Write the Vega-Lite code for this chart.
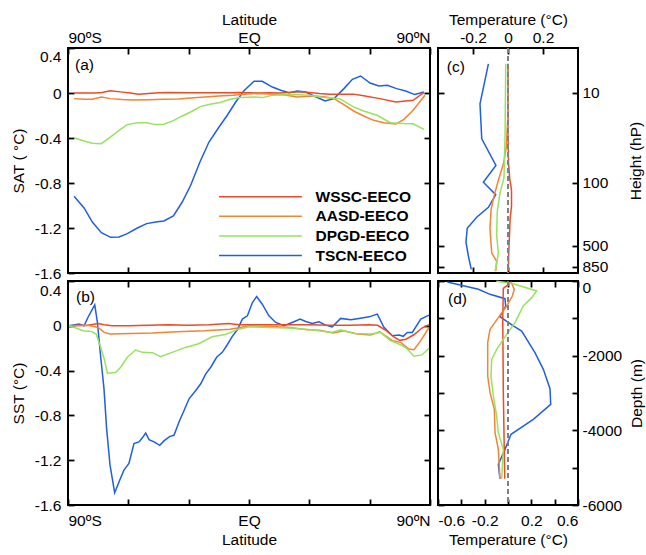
{
  "$schema": "https://vega.github.io/schema/vega-lite/v6.json",
  "padding": {"left": 10, "top": 11, "right": 0, "bottom": 0},
  "columns": 2,
  "spacing": 8,
  "bounds": "flush",
  "align": "each",
  "resolve": {"scale": {"color": "independent", "x": "independent", "y": "independent"}, "legend": {"color": "independent"}},
  "config": {
    "view": {"stroke": "#000", "strokeWidth": 2},
    "axis": {"grid": false, "domain": false, "tickColor": "#000", "tickWidth": 1.8, "tickSize": -6,
      "labelFont": "Liberation Sans", "labelFontSize": 15.5, "labelColor": "#000", "labelPadding": 13,
      "titleFont": "Liberation Sans", "titleFontSize": 15.5, "titleFontWeight": "normal", "titleColor": "#000"},
    "text": {"font": "Liberation Sans", "fontSize": 15.5, "color": "#000"},
    "line": {"strokeWidth": 1.5}
  },
  "datasets": {
    "sat": [
      {"exp": "TSCN-EECO", "lat": -87, "val": -0.918}, {"exp": "TSCN-EECO", "lat": -82, "val": -1.022}, {"exp": "TSCN-EECO", "lat": -77.9, "val": -1.147}, {"exp": "TSCN-EECO", "lat": -73.4, "val": -1.241}, {"exp": "TSCN-EECO", "lat": -68.8, "val": -1.283}, {"exp": "TSCN-EECO", "lat": -64.6, "val": -1.28}, {"exp": "TSCN-EECO", "lat": -60.5, "val": -1.25}, {"exp": "TSCN-EECO", "lat": -55.5, "val": -1.2}, {"exp": "TSCN-EECO", "lat": -50.9, "val": -1.161}, {"exp": "TSCN-EECO", "lat": -46.4, "val": -1.147}, {"exp": "TSCN-EECO", "lat": -42.3, "val": -1.138}, {"exp": "TSCN-EECO", "lat": -37.6, "val": -1.093}, {"exp": "TSCN-EECO", "lat": -33.2, "val": -0.969}, {"exp": "TSCN-EECO", "lat": -29, "val": -0.82}, {"exp": "TSCN-EECO", "lat": -24.4, "val": -0.613}, {"exp": "TSCN-EECO", "lat": -19.9, "val": -0.436}, {"exp": "TSCN-EECO", "lat": -14.9, "val": -0.302}, {"exp": "TSCN-EECO", "lat": -10.8, "val": -0.198}, {"exp": "TSCN-EECO", "lat": -6.6, "val": -0.08}, {"exp": "TSCN-EECO", "lat": -2.5, "val": 0.02}, {"exp": "TSCN-EECO", "lat": 2.5, "val": 0.104}, {"exp": "TSCN-EECO", "lat": 6.6, "val": 0.104}, {"exp": "TSCN-EECO", "lat": 11.6, "val": 0.053}, {"exp": "TSCN-EECO", "lat": 15.8, "val": 0.024}, {"exp": "TSCN-EECO", "lat": 19.9, "val": 0.003}, {"exp": "TSCN-EECO", "lat": 24, "val": 0.018}, {"exp": "TSCN-EECO", "lat": 28.2, "val": 0.009}, {"exp": "TSCN-EECO", "lat": 32.3, "val": -0.027}, {"exp": "TSCN-EECO", "lat": 37.8, "val": -0.071}, {"exp": "TSCN-EECO", "lat": 42.3, "val": -0.05}, {"exp": "TSCN-EECO", "lat": 47.2, "val": 0.039}, {"exp": "TSCN-EECO", "lat": 51.4, "val": 0.122}, {"exp": "TSCN-EECO", "lat": 55.5, "val": 0.151}, {"exp": "TSCN-EECO", "lat": 60.2, "val": 0.089}, {"exp": "TSCN-EECO", "lat": 64.6, "val": 0.062}, {"exp": "TSCN-EECO", "lat": 68.8, "val": 0.068}, {"exp": "TSCN-EECO", "lat": 73.4, "val": 0.039}, {"exp": "TSCN-EECO", "lat": 77.9, "val": 0.018}, {"exp": "TSCN-EECO", "lat": 82.4, "val": -0.014}, {"exp": "TSCN-EECO", "lat": 87, "val": 0.009},
      {"exp": "WSSC-EECO", "lat": -87, "val": 0}, {"exp": "WSSC-EECO", "lat": -82, "val": 0}, {"exp": "WSSC-EECO", "lat": -77, "val": 0}, {"exp": "WSSC-EECO", "lat": -73, "val": 0.005}, {"exp": "WSSC-EECO", "lat": -69, "val": 0.02}, {"exp": "WSSC-EECO", "lat": -64, "val": 0.01}, {"exp": "WSSC-EECO", "lat": -59, "val": 0}, {"exp": "WSSC-EECO", "lat": -55, "val": -0.012}, {"exp": "WSSC-EECO", "lat": -50, "val": -0.005}, {"exp": "WSSC-EECO", "lat": -45, "val": 0.003}, {"exp": "WSSC-EECO", "lat": -40, "val": 0.005}, {"exp": "WSSC-EECO", "lat": -30, "val": 0.003}, {"exp": "WSSC-EECO", "lat": -20, "val": 0.002}, {"exp": "WSSC-EECO", "lat": -10, "val": 0.003}, {"exp": "WSSC-EECO", "lat": -5, "val": 0.005}, {"exp": "WSSC-EECO", "lat": 0, "val": 0.003}, {"exp": "WSSC-EECO", "lat": 5, "val": 0}, {"exp": "WSSC-EECO", "lat": 10, "val": 0.002}, {"exp": "WSSC-EECO", "lat": 15, "val": 0}, {"exp": "WSSC-EECO", "lat": 20, "val": 0.005}, {"exp": "WSSC-EECO", "lat": 25, "val": 0.01}, {"exp": "WSSC-EECO", "lat": 30, "val": 0.005}, {"exp": "WSSC-EECO", "lat": 35, "val": -0.005}, {"exp": "WSSC-EECO", "lat": 40, "val": -0.01}, {"exp": "WSSC-EECO", "lat": 47, "val": -0.01}, {"exp": "WSSC-EECO", "lat": 52, "val": -0.01}, {"exp": "WSSC-EECO", "lat": 57, "val": -0.024}, {"exp": "WSSC-EECO", "lat": 65, "val": -0.05}, {"exp": "WSSC-EECO", "lat": 73, "val": -0.08}, {"exp": "WSSC-EECO", "lat": 81.6, "val": -0.065}, {"exp": "WSSC-EECO", "lat": 87, "val": 0.005},
      {"exp": "AASD-EECO", "lat": -87, "val": -0.05}, {"exp": "AASD-EECO", "lat": -82, "val": -0.055}, {"exp": "AASD-EECO", "lat": -78, "val": -0.055}, {"exp": "AASD-EECO", "lat": -73.4, "val": -0.035}, {"exp": "AASD-EECO", "lat": -69, "val": -0.05}, {"exp": "AASD-EECO", "lat": -63, "val": -0.058}, {"exp": "AASD-EECO", "lat": -58, "val": -0.062}, {"exp": "AASD-EECO", "lat": -50, "val": -0.06}, {"exp": "AASD-EECO", "lat": -42, "val": -0.056}, {"exp": "AASD-EECO", "lat": -35, "val": -0.054}, {"exp": "AASD-EECO", "lat": -29, "val": -0.045}, {"exp": "AASD-EECO", "lat": -22, "val": -0.035}, {"exp": "AASD-EECO", "lat": -15, "val": -0.027}, {"exp": "AASD-EECO", "lat": -8, "val": -0.02}, {"exp": "AASD-EECO", "lat": -2.5, "val": -0.012}, {"exp": "AASD-EECO", "lat": 3, "val": -0.005}, {"exp": "AASD-EECO", "lat": 10, "val": -0.01}, {"exp": "AASD-EECO", "lat": 17, "val": -0.015}, {"exp": "AASD-EECO", "lat": 24, "val": -0.035}, {"exp": "AASD-EECO", "lat": 29, "val": -0.03}, {"exp": "AASD-EECO", "lat": 33, "val": -0.027}, {"exp": "AASD-EECO", "lat": 38, "val": -0.035}, {"exp": "AASD-EECO", "lat": 42.3, "val": -0.05}, {"exp": "AASD-EECO", "lat": 47.2, "val": -0.104}, {"exp": "AASD-EECO", "lat": 52, "val": -0.16}, {"exp": "AASD-EECO", "lat": 57, "val": -0.204}, {"exp": "AASD-EECO", "lat": 62, "val": -0.243}, {"exp": "AASD-EECO", "lat": 67, "val": -0.264}, {"exp": "AASD-EECO", "lat": 73, "val": -0.276}, {"exp": "AASD-EECO", "lat": 77, "val": -0.234}, {"exp": "AASD-EECO", "lat": 81.6, "val": -0.154}, {"exp": "AASD-EECO", "lat": 87.5, "val": -0.02},
      {"exp": "DPGD-EECO", "lat": -87, "val": -0.397}, {"exp": "DPGD-EECO", "lat": -82, "val": -0.426}, {"exp": "DPGD-EECO", "lat": -78, "val": -0.447}, {"exp": "DPGD-EECO", "lat": -73.4, "val": -0.45}, {"exp": "DPGD-EECO", "lat": -68.8, "val": -0.39}, {"exp": "DPGD-EECO", "lat": -64.6, "val": -0.332}, {"exp": "DPGD-EECO", "lat": -60.5, "val": -0.281}, {"exp": "DPGD-EECO", "lat": -55.5, "val": -0.264}, {"exp": "DPGD-EECO", "lat": -50.9, "val": -0.264}, {"exp": "DPGD-EECO", "lat": -46.4, "val": -0.281}, {"exp": "DPGD-EECO", "lat": -42.3, "val": -0.278}, {"exp": "DPGD-EECO", "lat": -37.6, "val": -0.246}, {"exp": "DPGD-EECO", "lat": -33.2, "val": -0.204}, {"exp": "DPGD-EECO", "lat": -29, "val": -0.169}, {"exp": "DPGD-EECO", "lat": -24.2, "val": -0.121}, {"exp": "DPGD-EECO", "lat": -19.4, "val": -0.1}, {"exp": "DPGD-EECO", "lat": -14.4, "val": -0.085}, {"exp": "DPGD-EECO", "lat": -9.4, "val": -0.056}, {"exp": "DPGD-EECO", "lat": -4.5, "val": -0.041}, {"exp": "DPGD-EECO", "lat": 2.5, "val": -0.035}, {"exp": "DPGD-EECO", "lat": 6.6, "val": -0.041}, {"exp": "DPGD-EECO", "lat": 11.6, "val": -0.02}, {"exp": "DPGD-EECO", "lat": 18, "val": -0.015}, {"exp": "DPGD-EECO", "lat": 24, "val": -0.015}, {"exp": "DPGD-EECO", "lat": 30, "val": -0.02}, {"exp": "DPGD-EECO", "lat": 37, "val": -0.041}, {"exp": "DPGD-EECO", "lat": 45, "val": -0.05}, {"exp": "DPGD-EECO", "lat": 52, "val": -0.124}, {"exp": "DPGD-EECO", "lat": 57, "val": -0.16}, {"exp": "DPGD-EECO", "lat": 63.7, "val": -0.198}, {"exp": "DPGD-EECO", "lat": 70.3, "val": -0.264}, {"exp": "DPGD-EECO", "lat": 77, "val": -0.272}, {"exp": "DPGD-EECO", "lat": 81.6, "val": -0.274}, {"exp": "DPGD-EECO", "lat": 87, "val": -0.323}
    ],
    "sst": [
      {"exp": "TSCN-EECO", "lat": -89.5, "val": 0}, {"exp": "TSCN-EECO", "lat": -84.5, "val": 0.015}, {"exp": "TSCN-EECO", "lat": -82, "val": 0}, {"exp": "TSCN-EECO", "lat": -80.1, "val": 0.074}, {"exp": "TSCN-EECO", "lat": -76.7, "val": 0.187}, {"exp": "TSCN-EECO", "lat": -75.4, "val": 0.033}, {"exp": "TSCN-EECO", "lat": -73.8, "val": -0.267}, {"exp": "TSCN-EECO", "lat": -72.1, "val": -0.563}, {"exp": "TSCN-EECO", "lat": -70.8, "val": -0.918}, {"exp": "TSCN-EECO", "lat": -69.1, "val": -1.244}, {"exp": "TSCN-EECO", "lat": -66.8, "val": -1.49}, {"exp": "TSCN-EECO", "lat": -64.6, "val": -1.392}, {"exp": "TSCN-EECO", "lat": -62.2, "val": -1.289}, {"exp": "TSCN-EECO", "lat": -59.7, "val": -1.229}, {"exp": "TSCN-EECO", "lat": -57.2, "val": -1.052}, {"exp": "TSCN-EECO", "lat": -54.7, "val": -1.037}, {"exp": "TSCN-EECO", "lat": -53, "val": -1.0}, {"exp": "TSCN-EECO", "lat": -51.4, "val": -0.957}, {"exp": "TSCN-EECO", "lat": -49.7, "val": -1.016}, {"exp": "TSCN-EECO", "lat": -47.2, "val": -1.037}, {"exp": "TSCN-EECO", "lat": -44.4, "val": -1.067}, {"exp": "TSCN-EECO", "lat": -42.3, "val": -1.028}, {"exp": "TSCN-EECO", "lat": -39.3, "val": -0.987}, {"exp": "TSCN-EECO", "lat": -37.3, "val": -0.978}, {"exp": "TSCN-EECO", "lat": -34.8, "val": -0.859}, {"exp": "TSCN-EECO", "lat": -32.3, "val": -0.756}, {"exp": "TSCN-EECO", "lat": -29.8, "val": -0.652}, {"exp": "TSCN-EECO", "lat": -26.5, "val": -0.578}, {"exp": "TSCN-EECO", "lat": -24, "val": -0.518}, {"exp": "TSCN-EECO", "lat": -21.5, "val": -0.429}, {"exp": "TSCN-EECO", "lat": -19, "val": -0.37}, {"exp": "TSCN-EECO", "lat": -16.1, "val": -0.281}, {"exp": "TSCN-EECO", "lat": -13.3, "val": -0.237}, {"exp": "TSCN-EECO", "lat": -10.8, "val": -0.169}, {"exp": "TSCN-EECO", "lat": -8.3, "val": -0.094}, {"exp": "TSCN-EECO", "lat": -5.8, "val": -0.036}, {"exp": "TSCN-EECO", "lat": -3.3, "val": 0.06}, {"exp": "TSCN-EECO", "lat": -0.8, "val": 0.089}, {"exp": "TSCN-EECO", "lat": 1.7, "val": 0.208}, {"exp": "TSCN-EECO", "lat": 3.8, "val": 0.261}, {"exp": "TSCN-EECO", "lat": 6.6, "val": 0.193}, {"exp": "TSCN-EECO", "lat": 9.9, "val": 0.089}, {"exp": "TSCN-EECO", "lat": 13.3, "val": 0.03}, {"exp": "TSCN-EECO", "lat": 17.4, "val": 0.0}, {"exp": "TSCN-EECO", "lat": 21.5, "val": 0.03}, {"exp": "TSCN-EECO", "lat": 25.4, "val": 0.06}, {"exp": "TSCN-EECO", "lat": 28.2, "val": 0.039}, {"exp": "TSCN-EECO", "lat": 31.5, "val": 0.021}, {"exp": "TSCN-EECO", "lat": 34.8, "val": 0.036}, {"exp": "TSCN-EECO", "lat": 38.1, "val": 0.006}, {"exp": "TSCN-EECO", "lat": 41.4, "val": -0.009}, {"exp": "TSCN-EECO", "lat": 45.6, "val": 0.066}, {"exp": "TSCN-EECO", "lat": 50.6, "val": 0.053}, {"exp": "TSCN-EECO", "lat": 55.5, "val": 0.068}, {"exp": "TSCN-EECO", "lat": 59.7, "val": 0.08}, {"exp": "TSCN-EECO", "lat": 63.8, "val": 0.104}, {"exp": "TSCN-EECO", "lat": 67.1, "val": -0.014}, {"exp": "TSCN-EECO", "lat": 71.3, "val": -0.089}, {"exp": "TSCN-EECO", "lat": 74.6, "val": -0.083}, {"exp": "TSCN-EECO", "lat": 76.7, "val": -0.094}, {"exp": "TSCN-EECO", "lat": 78.7, "val": -0.059}, {"exp": "TSCN-EECO", "lat": 81.2, "val": -0.059}, {"exp": "TSCN-EECO", "lat": 85.4, "val": 0.06}, {"exp": "TSCN-EECO", "lat": 89.5, "val": 0.095},
      {"exp": "WSSC-EECO", "lat": -89.5, "val": 0}, {"exp": "WSSC-EECO", "lat": -80, "val": 0.005}, {"exp": "WSSC-EECO", "lat": -75, "val": 0.02}, {"exp": "WSSC-EECO", "lat": -72, "val": 0.01}, {"exp": "WSSC-EECO", "lat": -68, "val": 0}, {"exp": "WSSC-EECO", "lat": -60, "val": 0}, {"exp": "WSSC-EECO", "lat": -50, "val": 0.005}, {"exp": "WSSC-EECO", "lat": -40, "val": 0.01}, {"exp": "WSSC-EECO", "lat": -30, "val": 0.005}, {"exp": "WSSC-EECO", "lat": -20, "val": 0.01}, {"exp": "WSSC-EECO", "lat": -10, "val": 0.02}, {"exp": "WSSC-EECO", "lat": -5, "val": 0.01}, {"exp": "WSSC-EECO", "lat": 0, "val": 0.01}, {"exp": "WSSC-EECO", "lat": 10, "val": 0.01}, {"exp": "WSSC-EECO", "lat": 20, "val": 0.01}, {"exp": "WSSC-EECO", "lat": 30, "val": 0.01}, {"exp": "WSSC-EECO", "lat": 40, "val": 0.005}, {"exp": "WSSC-EECO", "lat": 50, "val": 0.005}, {"exp": "WSSC-EECO", "lat": 60, "val": 0.01}, {"exp": "WSSC-EECO", "lat": 64, "val": 0.005}, {"exp": "WSSC-EECO", "lat": 68, "val": -0.04}, {"exp": "WSSC-EECO", "lat": 72, "val": -0.1}, {"exp": "WSSC-EECO", "lat": 75, "val": -0.13}, {"exp": "WSSC-EECO", "lat": 78, "val": -0.12}, {"exp": "WSSC-EECO", "lat": 82, "val": -0.08}, {"exp": "WSSC-EECO", "lat": 86, "val": -0.02}, {"exp": "WSSC-EECO", "lat": 89.5, "val": 0.01},
      {"exp": "AASD-EECO", "lat": -89.5, "val": 0}, {"exp": "AASD-EECO", "lat": -80, "val": 0.005}, {"exp": "AASD-EECO", "lat": -75, "val": -0.015}, {"exp": "AASD-EECO", "lat": -72, "val": -0.059}, {"exp": "AASD-EECO", "lat": -69, "val": -0.074}, {"exp": "AASD-EECO", "lat": -59, "val": -0.068}, {"exp": "AASD-EECO", "lat": -48, "val": -0.065}, {"exp": "AASD-EECO", "lat": -36, "val": -0.053}, {"exp": "AASD-EECO", "lat": -22, "val": -0.045}, {"exp": "AASD-EECO", "lat": -9.4, "val": -0.03}, {"exp": "AASD-EECO", "lat": -4.4, "val": -0.015}, {"exp": "AASD-EECO", "lat": 0, "val": 0}, {"exp": "AASD-EECO", "lat": 10, "val": -0.005}, {"exp": "AASD-EECO", "lat": 20, "val": -0.015}, {"exp": "AASD-EECO", "lat": 29, "val": -0.036}, {"exp": "AASD-EECO", "lat": 35, "val": -0.04}, {"exp": "AASD-EECO", "lat": 42, "val": -0.065}, {"exp": "AASD-EECO", "lat": 47, "val": -0.045}, {"exp": "AASD-EECO", "lat": 54, "val": -0.074}, {"exp": "AASD-EECO", "lat": 60.5, "val": -0.083}, {"exp": "AASD-EECO", "lat": 65, "val": -0.053}, {"exp": "AASD-EECO", "lat": 71.3, "val": -0.133}, {"exp": "AASD-EECO", "lat": 75.4, "val": -0.148}, {"exp": "AASD-EECO", "lat": 79.5, "val": -0.207}, {"exp": "AASD-EECO", "lat": 82, "val": -0.213}, {"exp": "AASD-EECO", "lat": 85.4, "val": -0.133}, {"exp": "AASD-EECO", "lat": 89.5, "val": -0.015},
      {"exp": "DPGD-EECO", "lat": -89.5, "val": 0}, {"exp": "DPGD-EECO", "lat": -86, "val": -0.02}, {"exp": "DPGD-EECO", "lat": -82.5, "val": -0.044}, {"exp": "DPGD-EECO", "lat": -78.4, "val": -0.05}, {"exp": "DPGD-EECO", "lat": -76, "val": -0.074}, {"exp": "DPGD-EECO", "lat": -74, "val": -0.178}, {"exp": "DPGD-EECO", "lat": -72, "val": -0.296}, {"exp": "DPGD-EECO", "lat": -70.4, "val": -0.423}, {"exp": "DPGD-EECO", "lat": -66.3, "val": -0.418}, {"exp": "DPGD-EECO", "lat": -63.8, "val": -0.37}, {"exp": "DPGD-EECO", "lat": -60.5, "val": -0.281}, {"exp": "DPGD-EECO", "lat": -56.4, "val": -0.216}, {"exp": "DPGD-EECO", "lat": -53, "val": -0.237}, {"exp": "DPGD-EECO", "lat": -48, "val": -0.24}, {"exp": "DPGD-EECO", "lat": -44, "val": -0.276}, {"exp": "DPGD-EECO", "lat": -38.2, "val": -0.237}, {"exp": "DPGD-EECO", "lat": -31.6, "val": -0.193}, {"exp": "DPGD-EECO", "lat": -25, "val": -0.16}, {"exp": "DPGD-EECO", "lat": -18.4, "val": -0.098}, {"exp": "DPGD-EECO", "lat": -11.8, "val": -0.077}, {"exp": "DPGD-EECO", "lat": -5.2, "val": -0.03}, {"exp": "DPGD-EECO", "lat": 0, "val": -0.009}, {"exp": "DPGD-EECO", "lat": 10, "val": -0.015}, {"exp": "DPGD-EECO", "lat": 20, "val": -0.02}, {"exp": "DPGD-EECO", "lat": 31, "val": -0.036}, {"exp": "DPGD-EECO", "lat": 41, "val": -0.059}, {"exp": "DPGD-EECO", "lat": 45.6, "val": -0.036}, {"exp": "DPGD-EECO", "lat": 52.2, "val": -0.068}, {"exp": "DPGD-EECO", "lat": 60.5, "val": -0.074}, {"exp": "DPGD-EECO", "lat": 65.4, "val": -0.059}, {"exp": "DPGD-EECO", "lat": 70.3, "val": -0.133}, {"exp": "DPGD-EECO", "lat": 75.4, "val": -0.169}, {"exp": "DPGD-EECO", "lat": 78.7, "val": -0.207}, {"exp": "DPGD-EECO", "lat": 82, "val": -0.272}, {"exp": "DPGD-EECO", "lat": 86, "val": -0.26}, {"exp": "DPGD-EECO", "lat": 89.5, "val": -0.2}
    ],
    "atm": [
      {"exp": "TSCN-EECO", "p": 4.74, "t": -0.112}, {"exp": "TSCN-EECO", "p": 13.2, "t": -0.16}, {"exp": "TSCN-EECO", "p": 32.3, "t": -0.15}, {"exp": "TSCN-EECO", "p": 63.9, "t": -0.069}, {"exp": "TSCN-EECO", "p": 98, "t": -0.141}, {"exp": "TSCN-EECO", "p": 135, "t": -0.07}, {"exp": "TSCN-EECO", "p": 186, "t": -0.112}, {"exp": "TSCN-EECO", "p": 240, "t": -0.179}, {"exp": "TSCN-EECO", "p": 318, "t": -0.233}, {"exp": "TSCN-EECO", "p": 455, "t": -0.24}, {"exp": "TSCN-EECO", "p": 639, "t": -0.227}, {"exp": "TSCN-EECO", "p": 910, "t": -0.21},
      {"exp": "WSSC-EECO", "p": 4.74, "t": 0.0}, {"exp": "WSSC-EECO", "p": 10, "t": 0.0}, {"exp": "WSSC-EECO", "p": 30, "t": 0.0}, {"exp": "WSSC-EECO", "p": 60, "t": 0.003}, {"exp": "WSSC-EECO", "p": 90, "t": 0.01}, {"exp": "WSSC-EECO", "p": 120, "t": 0.02}, {"exp": "WSSC-EECO", "p": 180, "t": 0.02}, {"exp": "WSSC-EECO", "p": 250, "t": 0.012}, {"exp": "WSSC-EECO", "p": 400, "t": 0.008}, {"exp": "WSSC-EECO", "p": 600, "t": 0.004}, {"exp": "WSSC-EECO", "p": 950, "t": 0.002},
      {"exp": "AASD-EECO", "p": 4.74, "t": 0.0}, {"exp": "AASD-EECO", "p": 20, "t": -0.002}, {"exp": "AASD-EECO", "p": 40, "t": -0.01}, {"exp": "AASD-EECO", "p": 60, "t": -0.025}, {"exp": "AASD-EECO", "p": 93, "t": -0.055}, {"exp": "AASD-EECO", "p": 150, "t": -0.084}, {"exp": "AASD-EECO", "p": 200, "t": -0.097}, {"exp": "AASD-EECO", "p": 325, "t": -0.103}, {"exp": "AASD-EECO", "p": 600, "t": -0.093}, {"exp": "AASD-EECO", "p": 740, "t": -0.065}, {"exp": "AASD-EECO", "p": 950, "t": -0.07},
      {"exp": "DPGD-EECO", "p": 4.74, "t": -0.013}, {"exp": "DPGD-EECO", "p": 30, "t": -0.017}, {"exp": "DPGD-EECO", "p": 88, "t": -0.023}, {"exp": "DPGD-EECO", "p": 130, "t": -0.046}, {"exp": "DPGD-EECO", "p": 205, "t": -0.061}, {"exp": "DPGD-EECO", "p": 380, "t": -0.065}, {"exp": "DPGD-EECO", "p": 600, "t": -0.055}, {"exp": "DPGD-EECO", "p": 780, "t": -0.065}, {"exp": "DPGD-EECO", "p": 960, "t": -0.074}
    ],
    "ocn": [
      {"exp": "TSCN-EECO", "depth": -25, "t": -0.52}, {"exp": "TSCN-EECO", "depth": -223, "t": -0.254}, {"exp": "TSCN-EECO", "depth": -357, "t": -0.154}, {"exp": "TSCN-EECO", "depth": -473, "t": -0.026}, {"exp": "TSCN-EECO", "depth": -670, "t": -0.02}, {"exp": "TSCN-EECO", "depth": -955, "t": -0.069}, {"exp": "TSCN-EECO", "depth": -1205, "t": 0.046}, {"exp": "TSCN-EECO", "depth": -1340, "t": 0.117}, {"exp": "TSCN-EECO", "depth": -1920, "t": 0.231}, {"exp": "TSCN-EECO", "depth": -2366, "t": 0.303}, {"exp": "TSCN-EECO", "depth": -2884, "t": 0.36}, {"exp": "TSCN-EECO", "depth": -3303, "t": 0.366}, {"exp": "TSCN-EECO", "depth": -3705, "t": 0.217}, {"exp": "TSCN-EECO", "depth": -4107, "t": 0.026}, {"exp": "TSCN-EECO", "depth": -4509, "t": -0.026}, {"exp": "TSCN-EECO", "depth": -4911, "t": -0.083}, {"exp": "TSCN-EECO", "depth": -5297, "t": -0.069},
      {"exp": "WSSC-EECO", "depth": -20, "t": 0.03}, {"exp": "WSSC-EECO", "depth": -200, "t": -0.04}, {"exp": "WSSC-EECO", "depth": -1000, "t": -0.045}, {"exp": "WSSC-EECO", "depth": -3000, "t": -0.04}, {"exp": "WSSC-EECO", "depth": -5297, "t": -0.028},
      {"exp": "AASD-EECO", "depth": -27, "t": 0.026}, {"exp": "AASD-EECO", "depth": -223, "t": 0.054}, {"exp": "AASD-EECO", "depth": -402, "t": 0.037}, {"exp": "AASD-EECO", "depth": -670, "t": -0.011}, {"exp": "AASD-EECO", "depth": -982, "t": -0.083}, {"exp": "AASD-EECO", "depth": -1295, "t": -0.154}, {"exp": "AASD-EECO", "depth": -1652, "t": -0.174}, {"exp": "AASD-EECO", "depth": -2545, "t": -0.174}, {"exp": "AASD-EECO", "depth": -2991, "t": -0.154}, {"exp": "AASD-EECO", "depth": -3437, "t": -0.117}, {"exp": "AASD-EECO", "depth": -4062, "t": -0.111}, {"exp": "AASD-EECO", "depth": -4509, "t": -0.083}, {"exp": "AASD-EECO", "depth": -5297, "t": -0.069},
      {"exp": "DPGD-EECO", "depth": -5, "t": -0.1}, {"exp": "DPGD-EECO", "depth": -60, "t": 0.03}, {"exp": "DPGD-EECO", "depth": -268, "t": 0.246}, {"exp": "DPGD-EECO", "depth": -446, "t": 0.203}, {"exp": "DPGD-EECO", "depth": -670, "t": 0.131}, {"exp": "DPGD-EECO", "depth": -1116, "t": 0.06}, {"exp": "DPGD-EECO", "depth": -1429, "t": -0.011}, {"exp": "DPGD-EECO", "depth": -1830, "t": -0.097}, {"exp": "DPGD-EECO", "depth": -2098, "t": -0.14}, {"exp": "DPGD-EECO", "depth": -2545, "t": -0.146}, {"exp": "DPGD-EECO", "depth": -3080, "t": -0.126}, {"exp": "DPGD-EECO", "depth": -3616, "t": -0.097}, {"exp": "DPGD-EECO", "depth": -4062, "t": -0.083}, {"exp": "DPGD-EECO", "depth": -4509, "t": -0.04}, {"exp": "DPGD-EECO", "depth": -5297, "t": -0.054}
    ]
  },
  "concat": [
    {
      "width": 362, "height": 225,
      "resolve": {"axis": {"x": "independent", "y": "independent"}},
      "layer": [
        {
          "data": {"name": "sat"},
          "mark": {"type": "line", "strokeWidth": 1.5},
          "encoding": {
            "x": {"field": "lat", "type": "quantitative", "scale": {"domain": [-90, 90], "nice": false, "zero": false},
              "axis": {"orient": "top", "values": [-90, -60, -30, 0, 30, 60, 90], "labelExpr": "datum.value == -90 ? '90ºS' : datum.value == 0 ? 'EQ' : datum.value == 90 ? '90ºN' : ''", "labelFlush": true, "labelPadding": 8.5, "title": "Latitude", "titlePadding": 3.5}},
            "y": {"field": "val", "type": "quantitative", "scale": {"domain": [-1.6, 0.4], "nice": false, "zero": false},
              "axis": {"orient": "left", "values": [-1.6, -1.2, -0.8, -0.4, 0, 0.4], "labelExpr": "abs(datum.value) < 1e-9 ? '0' : (datum.value < 0 ? '-' : '') + format(abs(datum.value), '.1f')", "labelBaseline": {"condition": {"test": "datum.value > 0.3", "value": "top"}, "value": "middle"}, "labelOffset": {"condition": {"test": "datum.value > 0.3", "value": 1}, "value": 0}, "title": "SAT ( °C)", "titlePadding": 8}},
            "color": {"field": "exp", "type": "nominal",
              "scale": {"domain": ["WSSC-EECO", "AASD-EECO", "DPGD-EECO", "TSCN-EECO"], "range": ["#ef4a24", "#f5832f", "#96e35f", "#1f5fe6"]},
              "legend": {"orient": "none", "legendX": 184.7, "legendY": 141, "title": null, "padding": 0, "direction": "vertical",
                "symbolType": "M-6.9,0H6.9", "symbolSize": 144, "symbolStrokeWidth": 1.5,
                "labelFont": "Liberation Sans", "labelFontSize": 15.5, "labelFontWeight": "bold", "labelColor": "#000", "labelOffset": 47.3, "rowPadding": 2.6}}
          }
        },
        {
          "data": {"values": [{}]},
          "mark": {"type": "text", "align": "left", "baseline": "middle"},
          "encoding": {
            "x": {"datum": -86.5, "axis": {"orient": "bottom", "values": [-60, -30, 0, 30, 60], "labels": false, "title": null}},
            "y": {"datum": 0.25, "axis": {"orient": "right", "values": [-1.2, -0.8, -0.4, 0], "labels": false, "title": null}},
            "text": {"value": "(a)"}
          }
        }
      ]
    },
    {
      "width": 140, "height": 225,
      "resolve": {"axis": {"x": "independent", "y": "independent"}},
      "layer": [
        {
          "data": {"name": "atm"},
          "mark": {"type": "line", "strokeWidth": 1.5},
          "encoding": {
            "x": {"field": "t", "type": "quantitative", "scale": {"domain": [-0.4, 0.4], "nice": false, "zero": false},
              "axis": {"orient": "top", "values": [-0.2, 0, 0.2], "labelExpr": "abs(datum.value) < 1e-9 ? '0' : (datum.value < 0 ? '-' : '') + format(abs(datum.value), '.1f')", "labelPadding": 8.5, "title": "Temperature (°C)", "titlePadding": 3.5}},
            "y": {"field": "p", "type": "quantitative", "scale": {"type": "log", "domain": [3.1623, 1000], "reverse": true, "nice": false},
              "axis": {"orient": "right", "values": [10, 100, 500, 850], "labelExpr": "'' + datum.value", "labelPadding": 10, "title": "Height (hP)", "titleAngle": 270, "titlePadding": 36}},
            "order": {"field": "p", "type": "quantitative"},
            "color": {"field": "exp", "type": "nominal",
              "scale": {"domain": ["WSSC-EECO", "AASD-EECO", "DPGD-EECO", "TSCN-EECO"], "range": ["#ef4a24", "#f5832f", "#96e35f", "#1f5fe6"]}, "legend": null}
          }
        },
        {
          "data": {"values": [{}]},
          "mark": {"type": "text", "align": "left", "baseline": "middle"},
          "encoding": {
            "x": {"datum": -0.35, "axis": {"orient": "bottom", "values": [-0.2, 0, 0.2], "labels": false, "title": null}},
            "y": {"datum": 5.08, "axis": {"orient": "left", "values": [10, 100, 500, 850], "labels": false, "title": null}},
            "text": {"value": "(c)"}
          }
        },
        {
          "data": {"values": [{}]},
          "mark": {"type": "rule", "color": "#808080", "strokeWidth": 2, "strokeDash": [5, 3]},
          "encoding": {"x": {"datum": 0, "axis": null}}
        }
      ]
    },
    {
      "width": 362, "height": 224,
      "resolve": {"axis": {"x": "independent", "y": "independent"}},
      "layer": [
        {
          "data": {"name": "sst"},
          "mark": {"type": "line", "strokeWidth": 1.5},
          "encoding": {
            "x": {"field": "lat", "type": "quantitative", "scale": {"domain": [-90, 90], "nice": false, "zero": false},
              "axis": {"orient": "bottom", "values": [-90, -60, -30, 0, 30, 60, 90], "labelExpr": "datum.value == -90 ? '90ºS' : datum.value == 0 ? 'EQ' : datum.value == 90 ? '90ºN' : ''", "labelFlush": true, "labelPadding": 14, "title": "Latitude", "titlePadding": 4}},
            "y": {"field": "val", "type": "quantitative", "scale": {"domain": [-1.6, 0.4], "nice": false, "zero": false},
              "axis": {"orient": "left", "values": [-1.6, -1.2, -0.8, -0.4, 0, 0.4], "labelExpr": "abs(datum.value) < 1e-9 ? '0' : (datum.value < 0 ? '-' : '') + format(abs(datum.value), '.1f')", "labelBaseline": {"condition": {"test": "datum.value > 0.3", "value": "top"}, "value": "middle"}, "labelOffset": {"condition": {"test": "datum.value > 0.3", "value": 2}, "value": 0}, "title": "SST (°C)", "titlePadding": 8}},
            "color": {"field": "exp", "type": "nominal",
              "scale": {"domain": ["WSSC-EECO", "AASD-EECO", "DPGD-EECO", "TSCN-EECO"], "range": ["#ef4a24", "#f5832f", "#96e35f", "#1f5fe6"]}, "legend": null}
          }
        },
        {
          "data": {"values": [{}]},
          "mark": {"type": "text", "align": "left", "baseline": "middle"},
          "encoding": {
            "x": {"datum": -86, "axis": {"orient": "top", "values": [-60, -30, 0, 30, 60], "labels": false, "title": null}},
            "y": {"datum": 0.255, "axis": {"orient": "right", "values": [-1.2, -0.8, -0.4, 0], "labels": false, "title": null}},
            "text": {"value": "(b)"}
          }
        }
      ]
    },
    {
      "width": 140, "height": 224,
      "resolve": {"axis": {"x": "independent", "y": "independent"}},
      "layer": [
        {
          "data": {"name": "ocn"},
          "mark": {"type": "line", "strokeWidth": 1.5},
          "encoding": {
            "x": {"field": "t", "type": "quantitative", "scale": {"domain": [-0.6, 0.6], "nice": false, "zero": false},
              "axis": {"orient": "bottom", "values": [-0.6, -0.4, -0.2, 0, 0.2, 0.4, 0.6], "labelExpr": "(abs(abs(datum.value) - 0.2) < 1e-6 || abs(abs(datum.value) - 0.6) < 1e-6) ? (datum.value < 0 ? '-' : '') + format(abs(datum.value), '.1f') : ''", "labelFlush": true, "labelPadding": 14, "title": "Temperature (°C)", "titlePadding": 4}},
            "y": {"field": "depth", "type": "quantitative", "scale": {"domain": [-6000, 0], "nice": false, "zero": false},
              "axis": {"orient": "right", "values": [-6000, -5000, -4000, -3000, -2000, -1000, 0], "labelExpr": "datum.value % 2000 == 0 ? (datum.value < 0 ? '-' + abs(datum.value) : '0') : ''", "labelPadding": 10, "labelBaseline": {"condition": {"test": "datum.value > -1", "value": "top"}, "value": "middle"}, "labelOffset": {"condition": {"test": "datum.value > -1", "value": -1}, "value": 0}, "title": "Depth (m)", "titleAngle": 270, "titlePadding": 22.5}},
            "order": {"field": "depth", "type": "quantitative", "sort": "descending"},
            "color": {"field": "exp", "type": "nominal",
              "scale": {"domain": ["WSSC-EECO", "AASD-EECO", "DPGD-EECO", "TSCN-EECO"], "range": ["#ef4a24", "#f5832f", "#96e35f", "#1f5fe6"]}, "legend": null}
          }
        },
        {
          "data": {"values": [{}]},
          "mark": {"type": "text", "align": "left", "baseline": "middle"},
          "encoding": {
            "x": {"datum": -0.514, "axis": {"orient": "top", "values": [-0.6, -0.4, -0.2, 0, 0.2, 0.4, 0.6], "labels": false, "title": null}},
            "y": {"datum": -469, "axis": {"orient": "left", "values": [-6000, -5000, -4000, -3000, -2000, -1000, 0], "labels": false, "title": null}},
            "text": {"value": "(d)"}
          }
        },
        {
          "data": {"values": [{}]},
          "mark": {"type": "rule", "color": "#808080", "strokeWidth": 2, "strokeDash": [5, 3]},
          "encoding": {"x": {"datum": 0, "axis": null}}
        }
      ]
    }
  ]
}
